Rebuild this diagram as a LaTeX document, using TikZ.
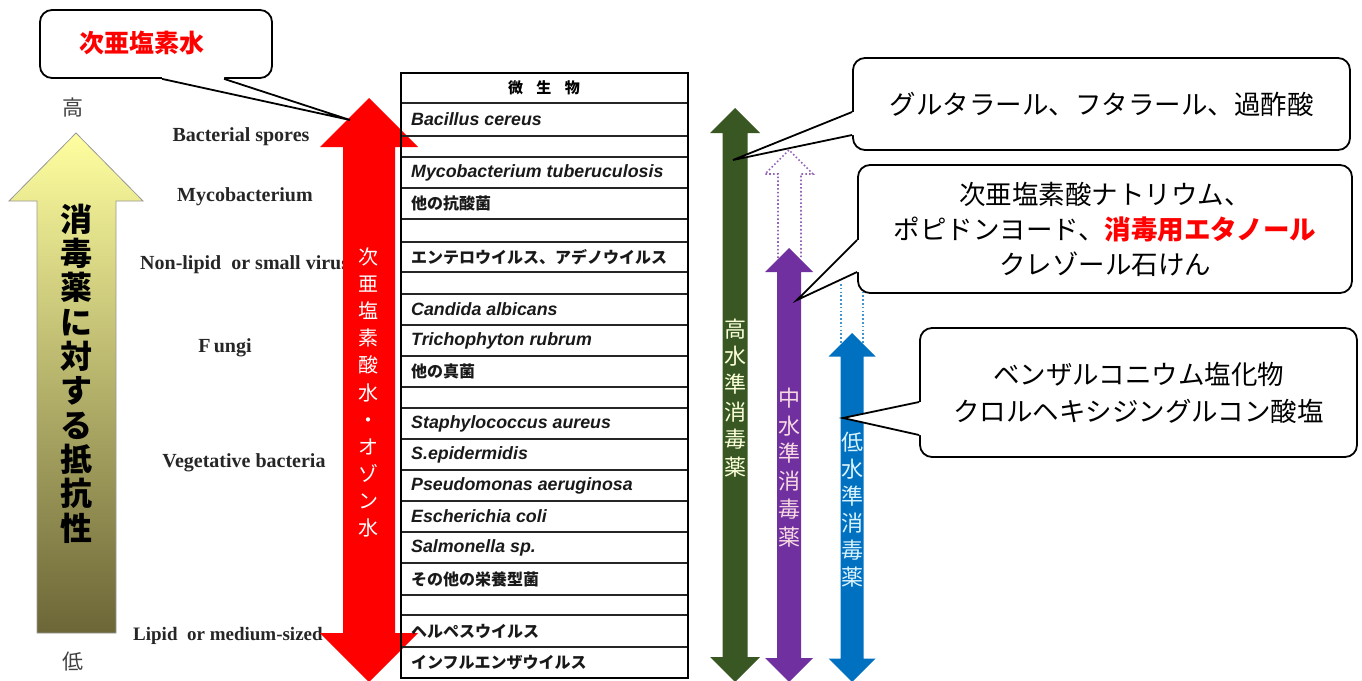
\documentclass[tikz,border=0pt]{standalone}
\usepackage{fontspec}
\setmainfont{Liberation Serif}
\newfontfamily\jpfont{Noto Sans CJK JP}
\newfontfamily\arialfont{Liberation Sans}
\usepackage{tikz}
\usetikzlibrary{calc}

\definecolor{hiGreen}{RGB}{56,87,35}
\definecolor{midPurple}{RGB}{112,48,160}
\definecolor{lowBlue}{RGB}{0,112,192}
\definecolor{paleYellow}{RGB}{255,255,160}
\definecolor{oliveDark}{RGB}{108,102,55}

\newcommand{\fsz}[2]{\fontsize{#1}{#2}\selectfont}
\newcommand{\latrow}{\arialfont\bfseries\itshape\fsz{17.8}{17.8}}
\newcommand{\jprow}{\jpfont\bfseries}
% double headed arrow: style, centre x, top y, bottom y, shaft half, head half
\newcommand{\dblarrow}[6]{%
  \path[#1] (#2,#3) -- ({#2+#6},{#3+#6}) -- ({#2+#5},{#3+#6}) -- ({#2+#5},{#4-#6})
    -- ({#2+#6},{#4-#6}) -- (#2,#4) -- ({#2-#6},{#4-#6}) -- ({#2-#5},{#4-#6})
    -- ({#2-#5},{#3+#6}) -- ({#2-#6},{#3+#6}) -- cycle;}
% callout pointer: base 1, base 2, tip, inward shift
\newcommand{\callptr}[4]{%
  \fill[white] (#1) -- (#3) -- (#2) -- ($(#2)+#4$) -- ($(#1)+#4$) -- cycle;
  \draw[ptr] (#1) -- (#3) -- (#2);}

\begin{document}
\begin{tikzpicture}[
        x=1pt, y=-1pt,
        sidelabel/.style = {
            font=\bfseries\fsz{20}{20},
            text=black!85,
            inner sep=0pt
        },
        celltext/.style = {
            anchor=west,
            inner sep=0pt,
            text=black!90,
            font=\fsz{16}{16}
        },
        cellrule/.style = {line width=1.2pt, draw=black!85},
        vtext/.style = {align=center, inner sep=0pt},
        callbox/.style = {
            draw,
            line width=1.8pt,
            rounded corners=12pt,
            fill=white,
            inner sep=0pt,
            align=center,
            font=\jpfont\fsz{26.5}{35}
        },
        ptr/.style = {line width=1.8pt},
        dotline/.style = {line width=1.6pt, dash pattern=on 1.6pt off 2.2pt}
    ]
    \useasboundingbox (0,0) rectangle (1362,680);

    % organism groups on the left
    \node [sidelabel] (spores) at (241,137) {Bacterial spores};
    \node [sidelabel] (myco)   at (245,197) {Mycobacterium};
    \node [sidelabel, anchor=west] (smallvir) at (140,265) {Non-lipid\ \ or small virus};
    \node [sidelabel] (fungi)  at (225,348) {F\,ungi};
    \node [sidelabel] (veget)  at (244,463) {Vegetative bacteria};
    \node [sidelabel, anchor=west, font=\bfseries\fsz{19}{19}] (medvir) at (133,636) {Lipid\ \ or medium-sized};

    \node [font=\jpfont\fsz{21}{21}, text=black!75] (highLbl) at (73,108) {高};
    \node [font=\jpfont\fsz{21}{21}, text=black!75] (lowLbl)  at (73,662) {低};

    % resistance arrow
    \shade [top color=paleYellow, bottom color=oliveDark, draw=black!40, line width=0.8pt]
        (76,133) -- (143,201) -- (116,201) -- (116,633) -- (37,633) -- (37,201) -- (9,201) -- cycle;
    \node [vtext, font=\jpfont\bfseries\fsz{32}{34.3}] (resist) at (76,373.5)
        {消\\毒\\薬\\に\\対\\す\\る\\抵\\抗\\性};

    % hypochlorous acid water / ozone water
    \dblarrow{fill=red}{369}{98}{682}{26}{49}
    \node [vtext, text=white, font=\jpfont\fsz{20}{27.1}] (hypoTxt) at (368,392.5)
        {次\\亜\\塩\\素\\酸\\水\\・\\オ\\ゾ\\ン\\水};

    % microorganism table
    \node [font=\jprow\fsz{15}{15}, inner sep=0pt] (tabHead) at (544,88) {微\hspace{0.9em}生\hspace{0.9em}物};
    \foreach \yt/\yb/\txt in {
        103/136/{\latrow Bacillus cereus},
        136/157/{},
        157/188/{\latrow Mycobacterium tuberuculosis},
        188/219/{\jprow 他の抗酸菌},
        219/242/{},
        242/272/{\jprow エンテロウイルス、アデノウイルス},
        272/294/{},
        294/325/{\latrow Candida albicans},
        325/356/{\latrow Trichophyton rubrum},
        356/387/{\jprow 他の真菌},
        387/408/{},
        408/439/{\latrow Staphylococcus aureus},
        439/470/{\latrow S.epidermidis},
        470/501/{\latrow Pseudomonas aeruginosa},
        501/532/{\latrow Escherichia coli},
        532/563/{\latrow Salmonella sp.},
        563/595/{\jprow その他の栄養型菌},
        595/615/{},
        615/647/{\jprow ヘルペスウイルス},
        647/678/{\jprow インフルエンザウイルス}} {
        \draw [cellrule] (401,\yt) -- (688,\yt);
        \node [celltext] (row\yt) at (411,{(\yt+\yb)/2}) {\txt};
    }
    \draw [line width=2.2pt] (401,73) rectangle (688,678);

    % high level
    \dblarrow{fill=hiGreen}{735}{108}{682}{12.5}{25}
    \node [vtext, text=green!10!yellow!15, font=\jpfont\fsz{22}{27.6}] (hiTxt) at (735,398)
        {高\\水\\準\\消\\毒\\薬};

    % intermediate level
    \draw [dotline, draw=midPurple!75] (778,258) -- (778,174) -- (765,174) -- (789,150)
        -- (813,174) -- (801,174) -- (801,258);
    \dblarrow{fill=midPurple}{789}{248}{682}{12}{24}
    \node [vtext, text=purple!15!white, font=\jpfont\fsz{22}{27.8}] (midTxt) at (789,467.5)
        {中\\水\\準\\消\\毒\\薬};

    % low level
    \draw [dotline, draw=lowBlue!75] (841,284) -- (841,345);
    \draw [dotline, draw=lowBlue!75] (863,284) -- (863,345);
    \dblarrow{fill=lowBlue}{852}{333}{682}{11.5}{23.5}
    \node [vtext, text=cyan!15!white, font=\jpfont\fsz{22}{27}] (lowTxt) at (852,509.5)
        {低\\水\\準\\消\\毒\\薬};

    % callouts
    \node [callbox, minimum width=232pt, minimum height=68pt] (hypoBox) at (156,44) {};
    \node [font=\jpfont\bfseries\fsz{25}{25}, text=red, inner sep=0pt] (hypoName) at (142,43) {次亜塩素水};
    \coordinate (hypoA) at ([xshift=123pt]hypoBox.south west);
    \coordinate (hypoB) at ([xshift=185pt]hypoBox.south west);
    \coordinate (hypoTip) at (350,120);
    \callptr{hypoA}{hypoB}{hypoTip}{(0,-3)}

    \node [callbox, minimum width=497pt, minimum height=92pt] (glutBox) at (1101.5,104)
        {グルタラール、フタラール、過酢酸};
    \coordinate (glutA) at ([yshift=-8pt]glutBox.west);
    \coordinate (glutB) at ([yshift=-31pt]glutBox.west);
    \coordinate (glutTip) at (733,160);
    \callptr{glutA}{glutB}{glutTip}{(3,0)}

    \node [callbox, minimum width=494pt, minimum height=128pt] (midBox) at (1105,229)
        {次亜塩素酸ナトリウム、\\ポピドンヨード、\textcolor{red}{\bfseries 消毒用エタノール}\\クレゾール石けん};
    \coordinate (midA) at ([yshift=-11pt]midBox.west);
    \coordinate (midB) at ([yshift=-43pt]midBox.west);
    \coordinate (midTip) at (797,300);
    \callptr{midA}{midB}{midTip}{(3,0)}

    \node [callbox, minimum width=437pt, minimum height=129pt, font=\jpfont\fsz{26.5}{37}] (lowBox) at (1138.5,392.5)
        {ベンザルコニウム塩化物\\クロルヘキシジングルコン酸塩};
    \coordinate (lowA) at ([yshift=-9.5pt]lowBox.west);
    \coordinate (lowB) at ([yshift=-42.5pt]lowBox.west);
    \coordinate (lowTip) at (843,418);
    \callptr{lowA}{lowB}{lowTip}{(3,0)}
\end{tikzpicture}
\end{document}
